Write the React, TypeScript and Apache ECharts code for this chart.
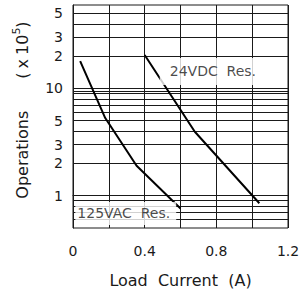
import React, { useEffect, useRef } from "react";
import * as echarts from "echarts";

// ---- data ----
const xLabelValues = [0, 0.4, 0.8, 1.2];
const yGridValues = [0.6, 0.7, 0.8, 0.9, 1, 2, 3, 4, 5, 6, 7, 8, 9, 9.5, 10, 20, 30, 40, 50];
const yLabelValues = [1, 2, 3, 5, 10, 20, 30, 50];
const yLabelTexts = ["1", "2", "3", "5", "10", "2", "3", "5"];
const yMin = 0.5;
const yMax = 60;

const ac125Current = [0.04, 0.18, 0.355, 0.6];
const ac125Ops = [18, 5.3, 1.9, 0.76];
const dc24Current = [0.4, 0.68, 1.04];
const dc24Ops = [20.5, 3.95, 0.85];

const seriesNames = ["125VAC  Res.", "24VDC  Res."];
const labelAnchorX = [0.2946, 0.767];
const labelAnchorY = [0.683, 14.4];

const lg = (v: number) => Math.log10(v);
const FONT = "DejaVu Sans";
const INK = "#1a1a1a";

export default function App() {
  const ref = useRef<HTMLDivElement>(null);
  useEffect(() => {
    if (!ref.current) return;
    const chart = echarts.init(ref.current, null, { renderer: "svg" });
    const curveStyle = { color: "#000", width: 2 };
    chart.setOption({
      animation: false,
      backgroundColor: "#fff",
      grid: {
        left: 73,
        right: 13,
        top: 5,
        bottom: 68,
        show: true,
        borderColor: INK,
        borderWidth: 1,
        outerBoundsMode: "none",
        containLabel: false,
      },
      xAxis: {
        type: "value",
        min: 0,
        max: 1.2,
        interval: 0.2,
        name: "Load  Current  (A)",
        nameLocation: "middle",
        nameGap: 44,
        nameTextStyle: { fontFamily: FONT, fontSize: 16, color: INK },
        axisLine: { show: true, lineStyle: { color: INK, width: 1 } },
        axisTick: { show: false },
        splitLine: { show: true, lineStyle: { color: INK, width: 1 } },
        axisLabel: {
          customValues: xLabelValues,
          margin: 16,
          fontFamily: FONT,
          fontSize: 14,
          color: INK,
          formatter: (v: number) => (Math.abs(v) < 1e-9 ? "0" : v.toFixed(1)),
        },
      },
      yAxis: {
        type: "value",
        min: lg(yMin),
        max: lg(yMax),
        name: "{n|Operations}{g|}{n|(}{h|}{n|x}{h|}{n|10}{s|5}{n|)}",
        nameLocation: "middle",
        nameRotate: 90,
        nameGap: 40,
        nameTextStyle: {
          fontFamily: FONT,
          color: INK,
          padding: [0, 0, 0, 13],
          rich: {
            n: { fontFamily: FONT, fontSize: 16, color: INK, lineHeight: 22 },
            g: { width: 32, lineHeight: 22 },
            h: { width: 4, lineHeight: 22 },
            s: { fontFamily: FONT, fontSize: 11, color: INK, verticalAlign: "top", lineHeight: 22 },
          },
        },
        axisLine: { show: true, lineStyle: { color: INK, width: 1 } },
        axisTick: { show: false, customValues: yGridValues.map(lg) },
        splitLine: { show: true, lineStyle: { color: INK, width: 1 } },
        axisLabel: {
          customValues: yLabelValues.map(lg),
          margin: 10,
          fontFamily: FONT,
          fontSize: 14,
          color: INK,
          formatter: (v: number) => {
            const i = yLabelValues.findIndex((y) => Math.abs(lg(y) - v) < 1e-6);
            return i >= 0 ? yLabelTexts[i] : "";
          },
        },
      },
      series: [
        {
          type: "line",
          name: seriesNames[0],
          symbol: "none",
          lineStyle: curveStyle,
          data: ac125Current.map((x, i) => [x, lg(ac125Ops[i])]),
          z: 3,
        },
        {
          type: "line",
          name: seriesNames[1],
          symbol: "none",
          lineStyle: curveStyle,
          data: dc24Current.map((x, i) => [x, lg(dc24Ops[i])]),
          z: 3,
        },
        {
          type: "scatter",
          symbolSize: 0,
          silent: true,
          z: 4,
          data: [
            {
              value: [labelAnchorX[0], lg(labelAnchorY[0])],
              label: { formatter: seriesNames[0], padding: [3, 6, 3, 2] },
            },
            {
              value: [labelAnchorX[1], lg(labelAnchorY[1])],
              label: { formatter: seriesNames[1], padding: [5, 5, 5, 10] },
            },
          ],
          label: {
            show: true,
            position: "inside",
            fontFamily: FONT,
            fontSize: 14,
            color: INK,
            backgroundColor: "#fff",
            lineHeight: 17,
          },
        },
      ],
    });
    return () => chart.dispose();
  }, []);
  return (
    <div
      ref={ref}
      style={{ position: "fixed", left: 0, top: 0, width: 301, height: 296, background: "#fff" }}
    />
  );
}
